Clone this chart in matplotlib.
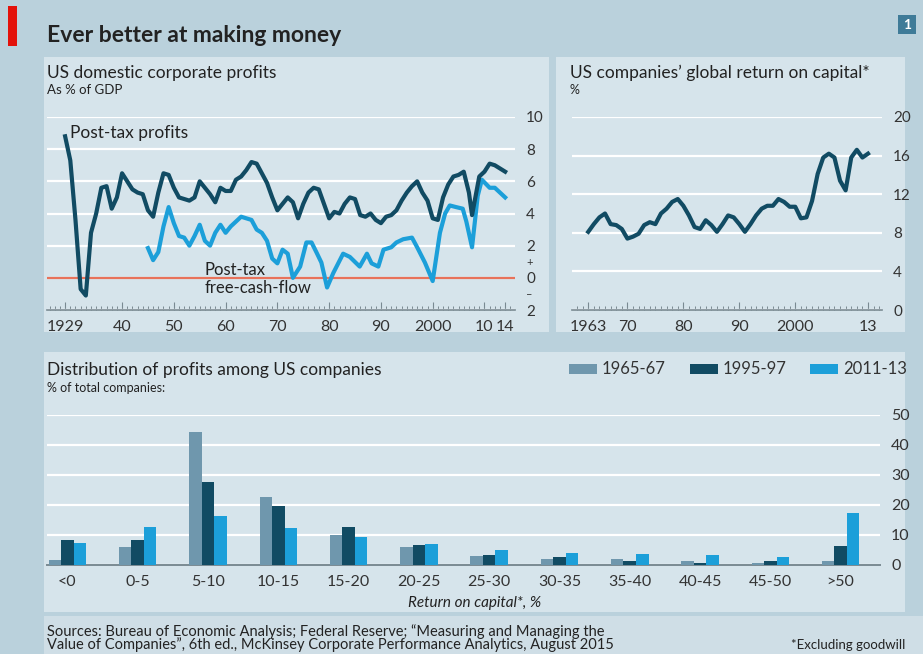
import matplotlib.pyplot as plt
from matplotlib.patches import Rectangle
from matplotlib.ticker import MultipleLocator

plt.rcParams['font.family'] = ['Lato', 'DejaVu Sans']

# --- data -------------------------------------------------------------
profit_years = [1929, 1930, 1931, 1932, 1933, 1934, 1935, 1936, 1937, 1938,
                1939, 1940, 1941, 1942, 1943, 1944, 1945, 1946, 1947, 1948,
                1949, 1950, 1951, 1952, 1953, 1954, 1955, 1956, 1957, 1958,
                1959, 1960, 1961, 1962, 1963, 1964, 1965, 1966, 1967, 1968,
                1969, 1970, 1971, 1972, 1973, 1974, 1975, 1976, 1977, 1978,
                1979, 1980, 1981, 1982, 1983, 1984, 1985, 1986, 1987, 1988,
                1989, 1990, 1991, 1992, 1993, 1994, 1995, 1996, 1997, 1998,
                1999, 2000, 2001, 2002, 2003, 2004, 2005, 2006, 2007, 2007.6,
                2009, 2010, 2011, 2012, 2013, 2014]
profit_values = [8.8, 7.3, 3.6, -0.7, -1.1, 2.8, 4.0, 5.6, 5.7, 4.3,
                 5.0, 6.5, 6.0, 5.5, 5.3, 5.2, 4.2, 3.8, 5.3, 6.5,
                 6.4, 5.6, 5.0, 4.9, 4.8, 5.0, 6.0, 5.6, 5.2, 4.7,
                 5.6, 5.4, 5.4, 6.1, 6.3, 6.7, 7.2, 7.1, 6.5, 5.9,
                 5.0, 4.2, 4.6, 5.0, 4.7, 3.7, 4.6, 5.3, 5.6, 5.5,
                 4.6, 3.7, 4.1, 4.0, 4.6, 5.0, 4.9, 3.9, 3.8, 4.0,
                 3.6, 3.4, 3.8, 3.9, 4.2, 4.8, 5.3, 5.7, 6.0, 5.3,
                 4.8, 3.7, 3.6, 5.0, 5.8, 6.3, 6.4, 6.6, 5.3, 3.9,
                 6.3, 6.6, 7.1, 7.0, 6.8, 6.6]

fcf_years = [1945, 1946, 1947, 1948, 1949, 1950, 1951, 1952, 1953, 1954,
             1955, 1956, 1957, 1958, 1959, 1960, 1961, 1962, 1963, 1964,
             1965, 1966, 1967, 1968, 1969, 1970, 1971, 1972, 1973, 1974.4,
             1975.6, 1976.6, 1977.6, 1978.5, 1979.6, 1980.8, 1982.7, 1984,
             1985.9, 1987.3, 1988.2, 1989.5, 1990.5, 1992, 1993, 1994.3,
             1996, 1997, 1998.5, 2000, 2001.4, 2002.4, 2003.3, 2004.5,
             2005.8, 2006.5, 2007.6, 2008.7, 2009.5, 2011, 2012, 2014]
fcf_values = [1.85, 1.1, 1.6, 3.2, 4.4, 3.4, 2.6, 2.5, 2.0, 2.6,
              3.3, 2.3, 2.0, 2.8, 3.3, 2.8, 3.2, 3.5, 3.8, 3.7,
              3.6, 3.0, 2.8, 2.3, 1.2, 0.9, 1.75, 1.5, 0.0, 0.7,
              2.2, 2.2, 1.55, 0.95, -0.6, 0.3, 1.5, 1.3,
              0.7, 1.5, 0.9, 0.7, 1.75, 1.9, 2.2, 2.4,
              2.5, 1.9, 0.95, -0.2, 2.8, 4.0, 4.5, 4.4,
              4.3, 3.5, 1.9, 5.1, 6.1, 5.6, 5.6, 5.0]

roc_years = list(range(1963, 2014))
roc_values = [8.1, 8.9, 9.6, 10.0, 8.9, 8.8, 8.4, 7.4, 7.6, 7.9,
              8.8, 9.1, 8.9, 10.0, 10.5, 11.2, 11.5, 10.8, 9.8, 8.6,
              8.4, 9.3, 8.8, 8.1, 8.9, 9.8, 9.6, 8.9, 8.1, 8.9,
              9.8, 10.5, 10.8, 10.8, 11.5, 11.2, 10.7, 10.7, 9.5, 9.6,
              11.3, 14.1, 15.8, 16.2, 15.8, 13.4, 12.4, 15.8, 16.6, 15.8,
              16.2]

roc_bins = ['<0', '0-5', '5-10', '10-15', '15-20', '20-25', '25-30',
            '30-35', '35-40', '40-45', '45-50', '>50']
share_1965_67 = [1.7, 5.9, 44.4, 22.7, 10.1, 5.9, 2.9, 2.0, 1.9, 1.2, 0.6, 1.5]
share_1995_97 = [8.3, 8.3, 27.8, 19.8, 12.7, 6.7, 3.5, 2.6, 1.3, 0.8, 1.2, 6.5]
share_2011_13 = [7.2, 12.8, 16.3, 12.4, 9.4, 7.0, 4.9, 4.0, 3.7, 3.5, 2.7, 17.4]
period_labels = ['1965-67', '1995-97', '2011-13']

# --- styling ----------------------------------------------------------
OUTER = '#bad1dc'
PANEL = '#d6e4eb'
DARK = '#114b63'
BRIGHT = '#1c9fd9'
GREY_BAR = '#6f97ad'
RED = '#e8725a'
TEXT = '#222222'
TICK = '#333333'
AXIS = '#7a8a92'

W, H = 923, 654
fig = plt.figure(figsize=(W / 100, H / 100), dpi=100, facecolor=OUTER)


def fx(px):
    return px / W


def fy(py):
    return 1 - py / H


def add_rect(left, top, right, bottom, color, z=-10):
    fig.add_artist(Rectangle((fx(left), fy(bottom)), (right - left) / W,
                             (bottom - top) / H, transform=fig.transFigure,
                             facecolor=color, edgecolor='none', zorder=z))


def axes_px(left, top, right, bottom):
    ax = fig.add_axes([fx(left), fy(bottom), (right - left) / W, (bottom - top) / H])
    ax.set_facecolor('none')
    for s in ax.spines.values():
        s.set_visible(False)
    return ax


def ftext(x, y, s, **kw):
    kw.setdefault('color', TEXT)
    kw.setdefault('va', 'center')
    return fig.text(fx(x), fy(y), s, **kw)


def style_time_axis(ax, ticks, labels):
    ax.yaxis.tick_right()
    ax.tick_params(axis='y', which='both', length=0, pad=8, labelsize=11, colors=TICK)
    ax.grid(axis='y', color='white', linewidth=1.6)
    ax.set_axisbelow(True)
    ax.spines['bottom'].set_visible(True)
    ax.spines['bottom'].set_color(AXIS)
    ax.spines['bottom'].set_linewidth(1.2)
    ax.set_xticks(ticks)
    ax.set_xticklabels(labels)
    ax.xaxis.set_minor_locator(MultipleLocator(1))
    ax.tick_params(axis='x', which='major', direction='in', length=6, width=0.8,
                   color=AXIS, pad=7, labelsize=11.5, labelcolor=TICK)
    ax.tick_params(axis='x', which='minor', direction='in', length=3, width=0.7,
                   color=AXIS)


# panels
add_rect(44, 57, 549, 332, PANEL)
add_rect(556, 57, 905, 332, PANEL)
add_rect(44, 352, 905, 612, PANEL)
add_rect(44, 616, 923, 654, '#cfdee6')

# header
add_rect(8, 6, 17, 46, '#e3120b', z=1)
ftext(47, 35, 'Ever better at making money', fontsize=16.5, fontweight='bold')
add_rect(898, 15, 916, 34, '#3f7b98', z=1)
ftext(907, 25, '1', fontsize=10, fontweight='bold', color='white', ha='center')

# --- top left: corporate profits --------------------------------------
ax1 = axes_px(47, 117, 515, 310)
ax1.set_xlim(1925.5, 2015.9)
ax1.set_ylim(-2, 10)
ax1.set_yticks([-2, 0, 2, 4, 6, 8, 10])
ax1.set_yticklabels(['2', '0', '2', '4', '6', '8', '10'])
ax1.set_yticks([-1, 1], labels=['–', '+'], minor=True)
style_time_axis(ax1, [1929, 1940, 1950, 1960, 1970, 1980, 1990, 2000, 2010, 2014],
                ['1929', '40', '50', '60', '70', '80', '90', '2000', '10', '14'])
ax1.tick_params(axis='y', which='minor', labelsize=8)
ax1.axhline(0, color=RED, linewidth=1.6, zorder=2)
ax1.plot(profit_years, profit_values, color=DARK, linewidth=3.0, zorder=4,
         solid_joinstyle='round', clip_on=False)
ax1.plot(fcf_years, fcf_values, color=BRIGHT, linewidth=3.0, zorder=3,
         solid_joinstyle='round', clip_on=False)

ftext(47, 73, 'US domestic corporate profits', fontsize=12.5)
ftext(47, 90, 'As % of GDP', fontsize=9.5)
ftext(70, 133, 'Post-tax profits', fontsize=12.5)
ftext(205, 270, 'Post-tax', fontsize=12)
ftext(205, 288, 'free-cash-flow', fontsize=12)

# --- top right: return on capital -------------------------------------
ax2 = axes_px(572, 117, 882, 310)
ax2.set_xlim(1960.1, 2015.5)
ax2.set_ylim(0, 20)
ax2.set_yticks([0, 4, 8, 12, 16, 20])
style_time_axis(ax2, [1963, 1970, 1980, 1990, 2000, 2013],
                ['1963', '70', '80', '90', '2000', '13'])
ax2.plot(roc_years, roc_values, color=DARK, linewidth=3.0, zorder=3,
         solid_joinstyle='round')

ftext(570, 73, 'US companies\u2019 global return on capital*', fontsize=12.5)
ftext(570, 90, '%', fontsize=9)

# --- bottom: distribution of profits ----------------------------------
ax3 = axes_px(47, 415, 880, 565)
ax3.set_xlim(-0.29, 11.56)
ax3.set_ylim(0, 50)
ax3.set_yticks([0, 10, 20, 30, 40, 50])
ax3.yaxis.tick_right()
ax3.tick_params(axis='y', length=0, pad=8, labelsize=11.5, colors=TICK)
ax3.grid(axis='y', color='white', linewidth=1.6)
ax3.set_axisbelow(True)
ax3.spines['bottom'].set_visible(True)
ax3.spines['bottom'].set_color(AXIS)
ax3.spines['bottom'].set_linewidth(1.4)

bw = 0.178
pos = list(range(len(roc_bins)))
for offs, vals, col, lab in zip((-bw, 0, bw),
                                (share_1965_67, share_1995_97, share_2011_13),
                                (GREY_BAR, DARK, BRIGHT), period_labels):
    ax3.bar([p + offs for p in pos], vals, width=bw, color=col, label=lab, zorder=3)
ax3.set_xticks(pos)
ax3.set_xticklabels(roc_bins)
ax3.tick_params(axis='x', length=0, pad=7, labelsize=11.5, labelcolor=TICK)

ftext(47, 370, 'Distribution of profits among US companies', fontsize=12.5)
ftext(47, 388, '% of total companies:', fontsize=9)
ftext(475, 603, 'Return on capital*, %', fontsize=11, ha='center', style='italic')

# legend drawn as patches and labels along the title line
for x0, col, lab in zip((569, 690, 810), (GREY_BAR, DARK, BRIGHT), period_labels):
    add_rect(x0, 364, x0 + 28, 374, col, z=1)
    ftext(x0 + 33, 369, lab, fontsize=12, color=TICK)

# footer
ftext(47, 632, 'Sources: Bureau of Economic Analysis; Federal Reserve; \u201cMeasuring and Managing the',
      fontsize=10.5)
ftext(47, 645, 'Value of Companies\u201d, 6th ed., McKinsey Corporate Performance Analytics, August 2015',
      fontsize=10.5)
ftext(905, 645, '*Excluding goodwill', fontsize=9.5, ha='right')

fig.savefig('out.png', dpi=100, facecolor=OUTER)
